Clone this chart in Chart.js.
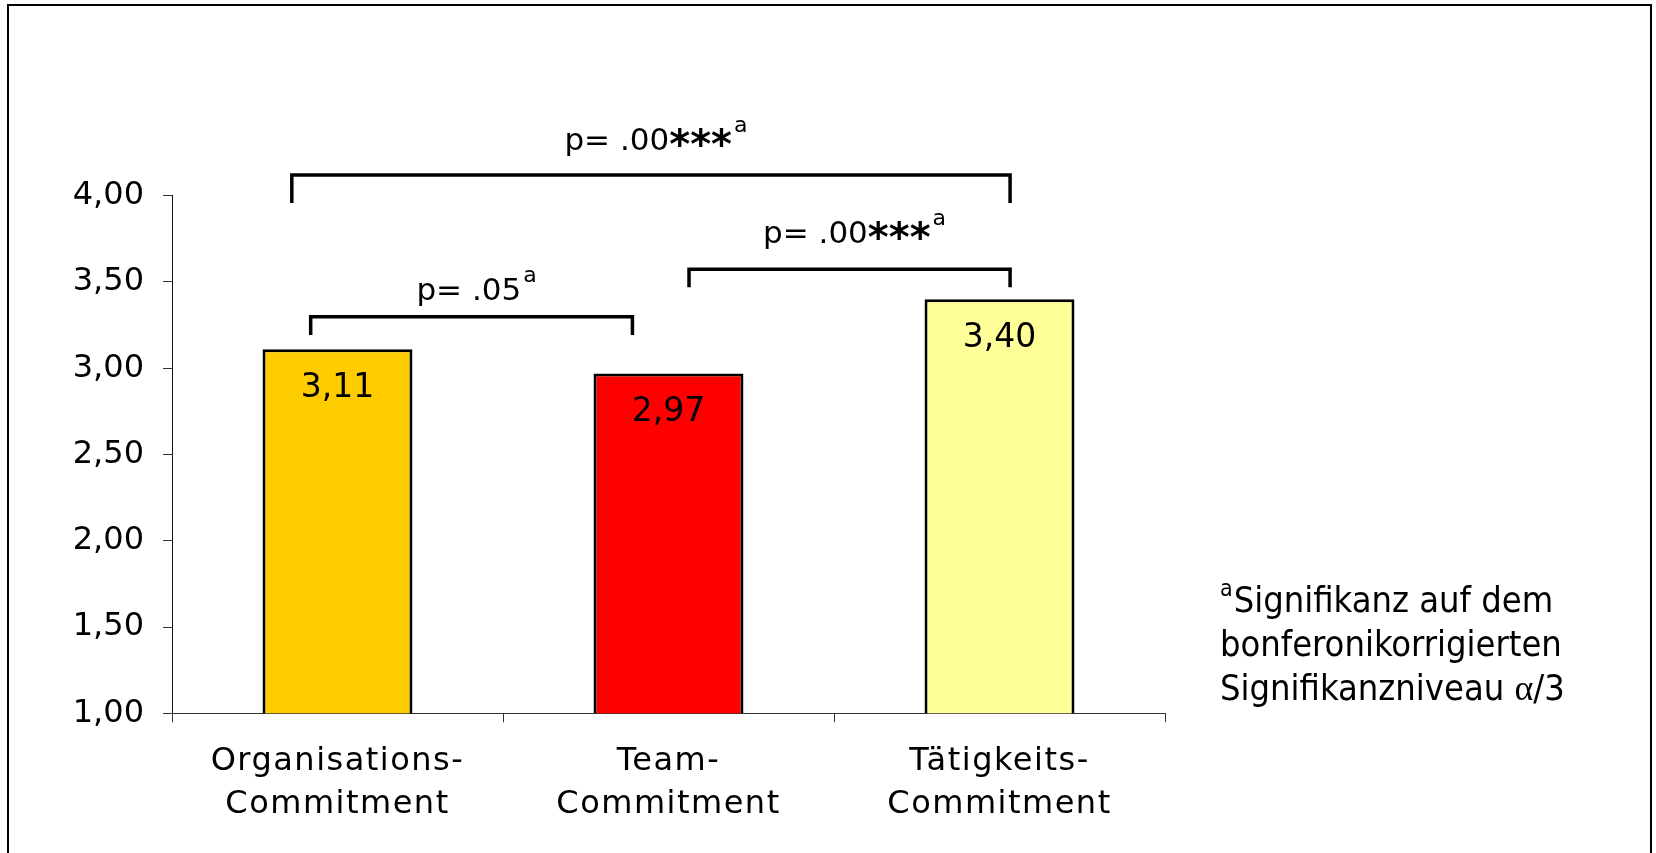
<!DOCTYPE html>
<html>
<head>
<meta charset="utf-8">
<script src="https://cdn.jsdelivr.net/npm/chart.js@4"></script>
<style>
  html, body { margin: 0; padding: 0; background: #fff; overflow: hidden; }
  #wrap { position: relative; width: 1656px; height: 853px; }
  #c { position: absolute; left: 0; top: 0; width: 1656px; height: 853px; }
  #frame { position: absolute; left: 7px; top: 4px; width: 1645px; height: 870px;
           border: 2px solid #000; box-sizing: border-box; pointer-events: none; }
</style>
</head>
<body>
<div id="wrap">
  <canvas id="c" width="1656" height="853"></canvas>
  <div id="frame"></div>
</div>
<script>
// ---------- data ----------
const categories = [["Organisations-", "Commitment"], ["Team-", "Commitment"], ["Tätigkeits-", "Commitment"]];
const meanValues = [3.11, 2.97, 3.40];
const barColors = ["#FFCC00", "#FF0000", "#FFFF99"];
const yMin = 1.0;
const yMax = 4.0;
const yStep = 0.5;
const comparisonPairs = [[0, 1], [1, 2], [0, 2]];
const comparisonP = [".05", ".00", ".00"];
const comparisonStars = ["", "***", "***"];
const footnoteSup = "a";
const footnoteLines = ["Signifikanz auf dem", "bonferonikorrigierten", "Signifikanzniveau "];
const footnoteSymbol = "\u03B1";
const footnoteTail = "/3";

// ---------- layout of the significance brackets (offsets in category units, levels in axis units) ----------
const bracketGeom = [
  { x0: -0.081, x1: -0.109, top: 3.299, bottom: 3.193, label: 3.397 },
  { x0:  0.062, x1:  0.032, top: 3.573, bottom: 3.469, label: 3.724 },
  { x0: -0.138, x1:  0.032, top: 4.120, bottom: 3.958, label: 4.265 }
];

const fmt = v => Number(v).toFixed(2).replace('.', ',');
const FONT = '"DejaVu Sans", Verdana, sans-serif';

// widen the category labels a little (the reference uses spaced lettering)
const spacedXLabels = {
  id: 'spacedXLabels',
  beforeDraw(chart) {
    const xs = chart.scales.x;
    if (xs && !xs._spacedPatched) {
      const orig = xs.drawLabels.bind(xs);
      xs.drawLabels = function (area) {
        const ctx = this.ctx;
        ctx.save();
        try { ctx.letterSpacing = '1.5px'; } catch (e) {}
        orig(area);
        ctx.restore();
      };
      xs._spacedPatched = true;
    }
  }
};

const annotations = {
  id: 'annotations',
  afterDatasetsDraw(chart) {
    const ctx = chart.ctx;
    const xs = chart.scales.x, ys = chart.scales.y;
    const meta = chart.getDatasetMeta(0);
    ctx.save();
    ctx.fillStyle = '#000';
    // value labels inside the bars
    ctx.font = '33px ' + FONT;
    ctx.textAlign = 'center';
    ctx.textBaseline = 'alphabetic';
    meta.data.forEach((bar, i) => {
      ctx.fillText(fmt(meanValues[i]), bar.x, bar.y + 47.5);
    });
    // brackets
    ctx.strokeStyle = '#000';
    ctx.lineWidth = 3.5;
    ctx.lineJoin = 'miter';
    ctx.lineCap = 'butt';
    comparisonPairs.forEach(([a, b], k) => {
      const g = bracketGeom[k];
      const xl = xs.getPixelForValue(a + g.x0);
      const xr = xs.getPixelForValue(b + g.x1);
      const yt = ys.getPixelForValue(g.top);
      const yb = ys.getPixelForValue(g.bottom);
      ctx.beginPath();
      ctx.moveTo(xl, yb);
      ctx.lineTo(xl, yt);
      ctx.lineTo(xr, yt);
      ctx.lineTo(xr, yb);
      ctx.stroke();
      const parts = [
        { t: 'p= ' + comparisonP[k], f: '31px ' + FONT, dy: 0, gap: 0 },
        { t: comparisonStars[k], f: 'bold 40px ' + FONT, dy: 8, gap: 0 },
        { t: 'a', f: '22px ' + FONT, dy: -18, gap: 2 }
      ];
      ctx.textAlign = 'left';
      let total = 0;
      parts.forEach(p => { ctx.font = p.f; p.w = ctx.measureText(p.t).width; total += p.w + p.gap; });
      let cx = (xl + xr) / 2 + 5 - total / 2;
      const base = ys.getPixelForValue(g.label);
      parts.forEach(p => {
        ctx.font = p.f;
        cx += p.gap;
        ctx.fillText(p.t, cx, base + p.dy);
        cx += p.w;
      });
    });
    ctx.restore();
  },
  afterDraw(chart) {
    const ctx = chart.ctx;
    ctx.save();
    ctx.fillStyle = '#000';
    ctx.textAlign = 'left';
    ctx.textBaseline = 'alphabetic';
    // pick a size so the second line spans the same width as in the reference
    let size = 36;
    const fam = '"DejaVu Sans Condensed", "DejaVu Sans", sans-serif';
    ctx.font = size + 'px ' + fam;
    const w = ctx.measureText(footnoteLines[1]).width;
    size = size * 342 / w;
    const left = 1220;
    const bases = [612, 656, 700];
    // line 1 with superscript
    ctx.font = '23px ' + fam;
    ctx.fillText(footnoteSup, left, bases[0] - 16);
    const supW = ctx.measureText(footnoteSup).width;
    ctx.font = size + 'px ' + fam;
    ctx.fillText(footnoteLines[0], left + supW + 1, bases[0]);
    ctx.fillText(footnoteLines[1], left, bases[1]);
    ctx.fillText(footnoteLines[2], left, bases[2]);
    let x3 = left + ctx.measureText(footnoteLines[2]).width;
    ctx.font = size + 'px "Liberation Serif", serif';
    ctx.fillText(footnoteSymbol, x3, bases[2]);
    x3 += ctx.measureText(footnoteSymbol).width;
    ctx.font = size + 'px ' + fam;
    ctx.fillText(footnoteTail, x3, bases[2]);
    ctx.restore();
  }
};

new Chart(document.getElementById('c'), {
  type: 'bar',
  data: {
    labels: categories,
    datasets: [{
      data: meanValues,
      backgroundColor: barColors,
      borderColor: '#000',
      borderWidth: 3,
      borderSkipped: false,
      barPercentage: 0.453,
      categoryPercentage: 1.0
    }]
  },
  options: {
    responsive: false,
    animation: false,
    devicePixelRatio: 1,
    layout: { padding: { top: 195.7, right: 491, left: 0, bottom: 0 } },
    plugins: { legend: { display: false }, tooltip: { enabled: false } },
    scales: {
      x: {
        grid: { display: true, drawOnChartArea: false, drawTicks: true, tickLength: 9, color: '#333', offset: true },
        border: { display: true, color: '#333', width: 1 },
        ticks: { color: '#000', font: { family: FONT, size: 32, lineHeight: 1.344 }, padding: 18.2, maxRotation: 0, minRotation: 0, autoSkip: false },
        afterFit: s => { s.height = 853 - 713.3; }
      },
      y: {
        min: yMin,
        max: yMax,
        grid: { display: true, drawOnChartArea: false, drawTicks: true, tickLength: 9, color: '#333' },
        border: { display: true, color: '#111', width: 1 },
        ticks: { stepSize: yStep, color: '#000', font: { family: FONT, size: 32 }, padding: 19, callback: v => fmt(v) },
        afterFit: s => { s.width = 172; }
      }
    }
  },
  plugins: [spacedXLabels, annotations]
});
</script>
</body>
</html>
